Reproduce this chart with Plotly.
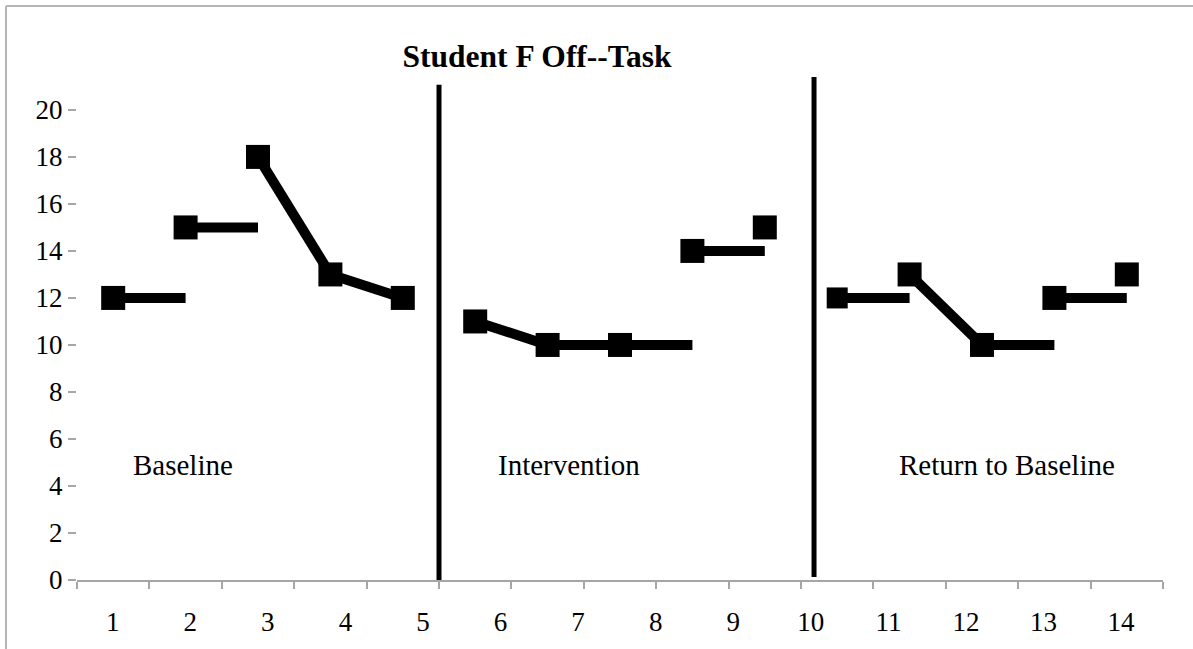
import plotly.graph_objects as go

# Off-task counts for each observed session
sessions = list(range(1, 16))
off_task = [12, 15, 18, 13, 12, 11, 10, 10, 14, 15, 12, 13, 10, 12, 13]
# How each session joins the next one: "slope" runs to the next value,
# "hold" carries the current value across, None leaves a gap
joins = ["hold", "hold", "slope", "slope", None,
         "slope", "slope", "hold", "hold", None,
         "hold", "slope", "hold", "hold"]

day_labels = [str(d) for d in range(1, 15)]
y_ticks = list(range(0, 21, 2))

phase_names = ["Baseline", "Intervention", "Return to Baseline"]
phase_label_x = [1.97, 7.3, 13.35]
phase_label_y = 4.9
phase_breaks = [(5.5, 0.0, 21.07), (10.68, 0.13, 21.4)]

# Build the connector path from the data
line_x, line_y = [], []
for i, kind in enumerate(joins):
    if kind is None:
        continue
    end_y = off_task[i + 1] if kind == "slope" else off_task[i]
    line_x += [sessions[i], sessions[i + 1], None]
    line_y += [off_task[i], end_y, None]

marker_sizes = [24] * len(sessions)
marker_sizes[10] = 21

GRAY = "#a6a6a6"
SERIF = "Liberation Serif"

fig = go.Figure()
fig.add_trace(go.Scatter(
    x=line_x, y=line_y, mode="lines",
    line=dict(color="black", width=10),
    hoverinfo="skip", showlegend=False,
))
fig.add_trace(go.Scatter(
    x=sessions, y=off_task, mode="markers",
    marker=dict(symbol="square", size=marker_sizes, color="black",
                opacity=1, line=dict(width=0)),
    showlegend=False,
))

shapes = []
for bx, b0, b1 in phase_breaks:
    shapes.append(dict(type="line", xref="x", yref="y",
                       x0=bx, x1=bx, y0=b0, y1=b1,
                       line=dict(color="black", width=5)))
# frame around the chart (left and top edges)
shapes.append(dict(type="line", xref="paper", yref="paper",
                   x0=-0.0654, x1=-0.0654, y0=-0.2, y1=1.141,
                   line=dict(color="#b5b5b5", width=2)))
shapes.append(dict(type="line", xref="paper", yref="paper",
                   x0=-0.0654, x1=1.1, y0=1.141, y1=1.141,
                   line=dict(color="#b5b5b5", width=2)))

annotations = [
    dict(x=px, y=phase_label_y, xref="x", yref="y", text=name,
         showarrow=False, font=dict(family=SERIF, size=29, color="black"),
         xanchor="center", yanchor="middle")
    for name, px in zip(phase_names, phase_label_x)
]

fig.update_layout(
    width=1193, height=649,
    margin=dict(l=77, r=30, t=77, b=66),
    paper_bgcolor="white", plot_bgcolor="white",
    title=dict(text="<b>Student F Off--Task</b>",
               x=537 / 1193, xanchor="center", xref="container",
               y=1 - 56 / 649, yanchor="middle", yref="container",
               font=dict(family=SERIF, size=31.5, color="black")),
    xaxis=dict(range=[0.5, 15.5],
               tickvals=[s + 0.5 for s in range(0, 16)],
               ticktext=[""] * 16,
               ticks="outside", ticklen=7, tickwidth=2, tickcolor=GRAY,
               showline=True, linecolor=GRAY, linewidth=2,
               showgrid=False, zeroline=False, fixedrange=True),
    xaxis2=dict(range=[0.54, 14.54], overlaying="x", anchor="y", side="bottom",
                tickvals=list(range(1, 15)), ticktext=day_labels,
                ticks="outside", ticklen=18, tickcolor="rgba(0,0,0,0)",
                tickfont=dict(family=SERIF, size=27, color="black"),
                showline=False, showgrid=False, zeroline=False),
    yaxis=dict(range=[0, 21.4], tickvals=y_ticks,
               ticks="outside", ticklen=8, tickwidth=1.5, tickcolor=GRAY,
               tickfont=dict(family=SERIF, size=27, color="black"),
               showline=False, showgrid=False, zeroline=False),
    shapes=shapes,
    annotations=annotations,
)

# Invisible anchor trace so the day-label axis is drawn
fig.add_trace(go.Scatter(x=[1, 14], y=[None, None], xaxis="x2",
                         mode="markers", showlegend=False, hoverinfo="skip"))

fig.write_html("out.html")
